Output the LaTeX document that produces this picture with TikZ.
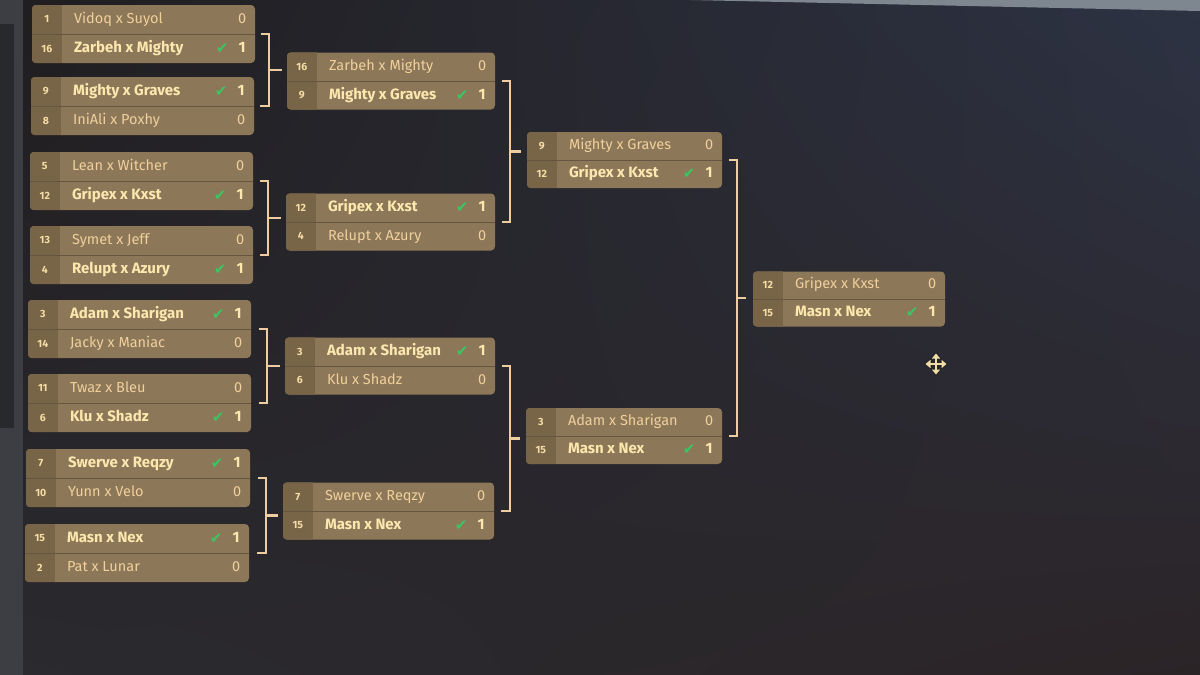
\documentclass[tikz,border=0pt]{standalone}
\usepackage{fontspec}
\setmainfont{Fira Sans}
\newfontfamily\symfont{DejaVu Sans}
\usetikzlibrary{calc,arrows.meta,shadings}
\definecolor{bgUL}{HTML}{201D1F}
\definecolor{bgUR}{HTML}{2D3344}
\definecolor{bgLL}{HTML}{2A2A2F}
\definecolor{bgLR}{HTML}{2B2427}
\definecolor{boxfill}{HTML}{8C7758}
\definecolor{seedfill}{HTML}{786447}
\definecolor{divcol}{HTML}{665540}
\definecolor{wintext}{HTML}{FCE8AE}
\definecolor{losetext}{HTML}{F0D09C}
\definecolor{seedtext}{HTML}{F5DDA6}
\definecolor{checkgreen}{HTML}{3CC463}
\definecolor{bracketcol}{HTML}{EECDA0}
\definecolor{stripcol}{HTML}{3C3E43}
\definecolor{stripdark}{HTML}{28292C}
\definecolor{bezel}{HTML}{7E8690}
\definecolor{cursorcol}{HTML}{F1DDA8}

\tikzset{
  boxnode/.style={draw=none, fill=boxfill, rounded corners=4pt, inner sep=0pt},
  seedlbl/.style={font=\bfseries\fontsize{10.5}{11}\selectfont, text=seedtext, inner sep=0pt},
  winlbl/.style={font=\bfseries\fontsize{15}{17}\selectfont, text=wintext, anchor=west, inner sep=0pt, text height=10.5pt, text depth=3pt},
  loselbl/.style={font=\fontsize{14.5}{17}\selectfont, text=losetext, anchor=west, inner sep=0pt, text height=10.5pt, text depth=3pt},
  checklbl/.style={font=\symfont\fontsize{15}{15}\selectfont, text=checkgreen, inner sep=0pt},
  bracket/.style={draw=bracketcol, line width=2.2pt},
}

% name, left, right, center y, height
\newcommand{\matchbox}[5]{%
  \node[boxnode, minimum width={(#3-#2)*1pt}, minimum height={#5*1pt}] (#1) at ({(#2+#3)/2},#4) {};
  \begin{scope}
    \clip[rounded corners=4pt] (#1.north west) rectangle (#1.south east);
    \fill[seedfill] (#1.north west) rectangle ([xshift=30pt]#1.south west);
  \end{scope}
  \draw[divcol, line width=1pt] (#1.west) -- (#1.east);
}
% box, north/south, seed, text, score
\newcommand{\wrow}[5]{%
  \coordinate (#1-#2w) at ($(#1.west)!0.5!(#1.#2 west)$);
  \coordinate (#1-#2e) at ($(#1.east)!0.5!(#1.#2 east)$);
  \node[seedlbl] (#1-#2-seed) at ([xshift=15pt]#1-#2w) {#3};
  \node[winlbl] (#1-#2-name) at ([xshift=42pt]#1-#2w) {#4};
  \node[winlbl, anchor=center] (#1-#2-score) at ([xshift=-13pt]#1-#2e) {#5};
  \node[checklbl] (#1-#2-check) at ([xshift=-33pt]#1-#2e) {✔};
}
\newcommand{\lrow}[5]{%
  \coordinate (#1-#2w) at ($(#1.west)!0.5!(#1.#2 west)$);
  \coordinate (#1-#2e) at ($(#1.east)!0.5!(#1.#2 east)$);
  \node[seedlbl] (#1-#2-seed) at ([xshift=15pt]#1-#2w) {#3};
  \node[loselbl] (#1-#2-name) at ([xshift=42pt]#1-#2w) {#4};
  \node[loselbl, anchor=center] (#1-#2-score) at ([xshift=-13pt]#1-#2e) {#5};
}
% a, b, target, gap before tick, tick length, stub gap
\newcommand{\bracketlink}[6]{%
  \draw[bracket] ([xshift=#4pt]#1.east) -- ++(#5,0) |- ([xshift=#4pt]#2.east);
  \coordinate (#1#2-mid) at ($([xshift=#4pt+#5pt]#1.east)!0.5!([xshift=#4pt+#5pt]#2.east)$);
  \coordinate (#1#2-end) at ([xshift=-#6pt]#3.west);
  \draw[bracket] (#1#2-mid) -- (#1#2-mid -| #1#2-end);
}

\begin{document}
\begin{tikzpicture}[x=1pt,y=-1pt]
\useasboundingbox (0,0) rectangle (1200,675);
% background
\shade[upper left=bgUL, upper right=bgUR, lower left=bgLL, lower right=bgLR] (0,0) rectangle (1200,675);
\fill[bezel] (690,0) -- (1200,0) -- (1200,11) -- cycle;
\fill[stripcol] (0,0) rectangle (23,675);
\fill[stripdark] (0,24) rectangle (14,428);

% round 1
\matchbox{m1}{32}{255}{34}{58}
\lrow{m1}{north}{1}{Vidoq x Suyol}{0}
\wrow{m1}{south}{16}{Zarbeh x Mighty}{1}
\matchbox{m2}{31}{254}{106}{58}
\wrow{m2}{north}{9}{Mighty x Graves}{1}
\lrow{m2}{south}{8}{IniAli x Poxhy}{0}
\matchbox{m3}{30}{253}{181}{58}
\lrow{m3}{north}{5}{Lean x Witcher}{0}
\wrow{m3}{south}{12}{Gripex x Kxst}{1}
\matchbox{m4}{30}{253}{255}{58}
\lrow{m4}{north}{13}{Symet x Jeff}{0}
\wrow{m4}{south}{4}{Relupt x Azury}{1}
\matchbox{m5}{28}{251}{329}{58}
\wrow{m5}{north}{3}{Adam x Sharigan}{1}
\lrow{m5}{south}{14}{Jacky x Maniac}{0}
\matchbox{m6}{28}{251}{403}{58}
\lrow{m6}{north}{11}{Twaz x Bleu}{0}
\wrow{m6}{south}{6}{Klu x Shadz}{1}
\matchbox{m7}{26}{250}{478}{58}
\wrow{m7}{north}{7}{Swerve x Reqzy}{1}
\lrow{m7}{south}{10}{Yunn x Velo}{0}
\matchbox{m8}{25}{249}{553}{58}
\wrow{m8}{north}{15}{Masn x Nex}{1}
\lrow{m8}{south}{2}{Pat x Lunar}{0}

% round 2
\matchbox{q1}{287}{495}{81}{57}
\lrow{q1}{north}{16}{Zarbeh x Mighty}{0}
\wrow{q1}{south}{9}{Mighty x Graves}{1}
\matchbox{q2}{286}{495}{222}{57}
\wrow{q2}{north}{12}{Gripex x Kxst}{1}
\lrow{q2}{south}{4}{Relupt x Azury}{0}
\matchbox{q3}{285}{495}{366}{57}
\wrow{q3}{north}{3}{Adam x Sharigan}{1}
\lrow{q3}{south}{6}{Klu x Shadz}{0}
\matchbox{q4}{283}{494}{511}{57}
\lrow{q4}{north}{7}{Swerve x Reqzy}{0}
\wrow{q4}{south}{15}{Masn x Nex}{1}

% round 3
\matchbox{s1}{527}{722}{160}{56}
\lrow{s1}{north}{9}{Mighty x Graves}{0}
\wrow{s1}{south}{12}{Gripex x Kxst}{1}
\matchbox{s2}{526}{722}{436}{56}
\lrow{s2}{north}{3}{Adam x Sharigan}{0}
\wrow{s2}{south}{15}{Masn x Nex}{1}

% final
\matchbox{f}{753}{945}{299}{55}
\lrow{f}{north}{12}{Gripex x Kxst}{0}
\wrow{f}{south}{15}{Masn x Nex}{1}

% brackets
\bracketlink{m1}{m2}{q1}{6}{8}{5}
\bracketlink{m3}{m4}{q2}{7}{8}{5}
\bracketlink{m5}{m6}{q3}{8}{8}{5}
\bracketlink{m7}{m8}{q4}{8}{8}{5}
\bracketlink{q1}{q2}{s1}{7}{8}{6}
\bracketlink{q3}{q4}{s2}{7}{8}{6}
\bracketlink{s1}{s2}{f}{7}{8}{7}

% move cursor
\coordinate (cur) at (936,364);
\draw[line width=5pt, black!85, {Triangle[length=7pt,width=11pt]}-{Triangle[length=7pt,width=11pt]}] ([xshift=-12pt]cur) -- ([xshift=12pt]cur);
\draw[line width=5pt, black!85, {Triangle[length=7pt,width=11pt]}-{Triangle[length=7pt,width=11pt]}] ([yshift=-12pt]cur) -- ([yshift=12pt]cur);
\draw[line width=2.6pt, cursorcol, {Triangle[length=5pt,width=8pt]}-{Triangle[length=5pt,width=8pt]}] ([xshift=-10.5pt]cur) -- ([xshift=10.5pt]cur);
\draw[line width=2.6pt, cursorcol, {Triangle[length=5pt,width=8pt]}-{Triangle[length=5pt,width=8pt]}] ([yshift=-10.5pt]cur) -- ([yshift=10.5pt]cur);
\end{tikzpicture}
\end{document}
